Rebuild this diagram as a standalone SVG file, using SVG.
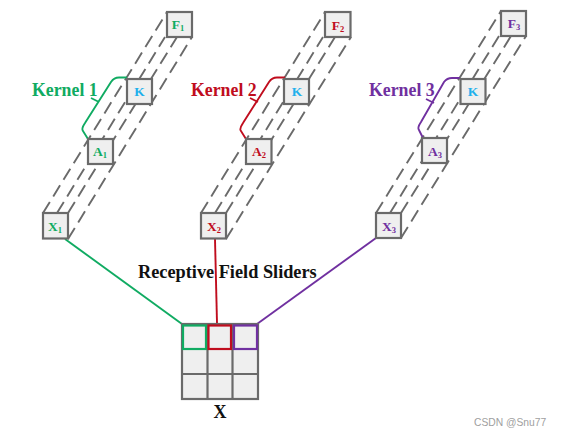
<svg xmlns="http://www.w3.org/2000/svg" width="561" height="436" viewBox="0 0 561 436">
<style>
.box{fill:#efefef;stroke:#6a6a6a;stroke-width:2.200}
.dash{fill:none;stroke:#6a6a6a;stroke-width:1.900;stroke-dasharray:13 6.500}
.line{fill:none;stroke-width:1.900}
.t{font-family:"Liberation Serif",serif;font-weight:bold}
.lab{font-size:13.500px;text-anchor:middle}
.sub{font-size:8.500px}
.ker{font-size:17.800px}
.g{stroke:#10ab62}.r{stroke:#c00d1e}.p{stroke:#7030a0}
.tg{fill:#10ab62}.tr{fill:#c00d1e}.tp{fill:#7030a0}.tk{fill:#1fb0ec}
</style>
<rect width="561" height="436" fill="#fff"/>
<g id="connectors">
<g id="dashes-1" class="dash"><path d="M43 213L167 12"/><path d="M57 213L165 37"/><path d="M68 213L177 37"/><path d="M68 239L192 37"/></g>
<g id="dashes-2" class="dash"><path d="M201 213L325 12"/><path d="M215 213L323 37"/><path d="M226 213L335 37"/><path d="M226 239L351 37"/></g>
<g id="dashes-3" class="dash"><path d="M376 213L501 11"/><path d="M390 213L499 36"/><path d="M401 213L511 36"/><path d="M401 238L526 36"/></g>
<path class="line g" d="M65 239L182 324"/>
<path class="line r" d="M215 239L217 323"/>
<path class="line p" d="M376 238L257 324"/>
<path class="line g" d="M127 77.500H119Q114 77.500 111 82L85 123Q81 129 83 131L88 139M91 98L99 102"/>
<path class="line r" d="M285 77.500H277Q272 77.500 269 82L243 123Q239 129 241 131L246 139M250 98L258 102"/>
<path class="line p" d="M460 78H452Q447 78 444 82L421 122Q417 128 419 130L423 138M426 99L434 103"/>
</g>
<g id="node-F1"><rect class="box" x="167" y="12" width="25" height="25"/><text class="t lab tg" x="178" y="29">F<tspan class="sub" dy="2">1</tspan></text></g>
<g id="node-K1"><rect class="box" x="127" y="79" width="25" height="25"/><text class="t lab tk" x="139.500" y="96">K</text></g>
<g id="node-A1"><rect class="box" x="88" y="139" width="25" height="25"/><text class="t lab tg" x="100" y="156">A<tspan class="sub" dy="2">1</tspan></text></g>
<g id="node-X1"><rect class="box" x="43" y="213" width="25" height="25.500"/><text class="t lab tg" x="55" y="231">X<tspan class="sub" dy="2">1</tspan></text></g>
<g id="node-F2"><rect class="box" x="325" y="12" width="25.500" height="25"/><text class="t lab tr" x="338" y="30">F<tspan class="sub" dy="2">2</tspan></text></g>
<g id="node-K2"><rect class="box" x="284" y="79" width="25" height="25"/><text class="t lab tk" x="297" y="96">K</text></g>
<g id="node-A2"><rect class="box" x="246" y="139" width="25.500" height="25"/><text class="t lab tr" x="259" y="156">A<tspan class="sub" dy="2">2</tspan></text></g>
<g id="node-X2"><rect class="box" x="201" y="213" width="25" height="25.500"/><text class="t lab tr" x="214" y="231">X<tspan class="sub" dy="2">2</tspan></text></g>
<g id="node-F3"><rect class="box" x="501" y="11" width="25" height="25"/><text class="t lab tp" x="514" y="28">F<tspan class="sub" dy="2">3</tspan></text></g>
<g id="node-K3"><rect class="box" x="460.500" y="79" width="25" height="25"/><text class="t lab tk" x="473" y="96">K</text></g>
<g id="node-A3"><rect class="box" x="422" y="138" width="25" height="25"/><text class="t lab tp" x="435" y="156">A<tspan class="sub" dy="2">3</tspan></text></g>
<g id="node-X3"><rect class="box" x="376" y="213" width="25" height="25"/><text class="t lab tp" x="389" y="231">X<tspan class="sub" dy="2">3</tspan></text></g>
<g id="node-grid">
<rect class="box" x="182" y="324" width="76" height="75"/>
<path fill="none" stroke="#6a6a6a" stroke-width="2.200" d="M207.500 324V399M232.500 324V399M182 349H258M182 374H258"/>
<rect x="183" y="325.500" width="23" height="23.500" fill="none" stroke="#10ab62" stroke-width="2.200"/>
<rect x="208.500" y="325.500" width="22.500" height="23.500" fill="none" stroke="#c00d1e" stroke-width="2.200"/>
<rect x="234" y="325.500" width="23" height="23.500" fill="none" stroke="#7030a0" stroke-width="2.200"/>
<text class="t" x="220" y="418" font-size="18" text-anchor="middle" fill="#111">X</text>
</g>
<text class="t ker tg" x="32" y="96">Kernel 1</text>
<text class="t ker tr" x="191" y="96">Kernel 2</text>
<text class="t ker tp" x="369" y="96">Kernel 3</text>
<text class="t" x="138" y="278" font-size="18.300" fill="#111">Receptive Field Sliders</text>
<text x="474" y="426" font-family="Liberation Sans,sans-serif" font-size="10.300" fill="#a0a0a0">CSDN @Snu77</text>
</svg>
